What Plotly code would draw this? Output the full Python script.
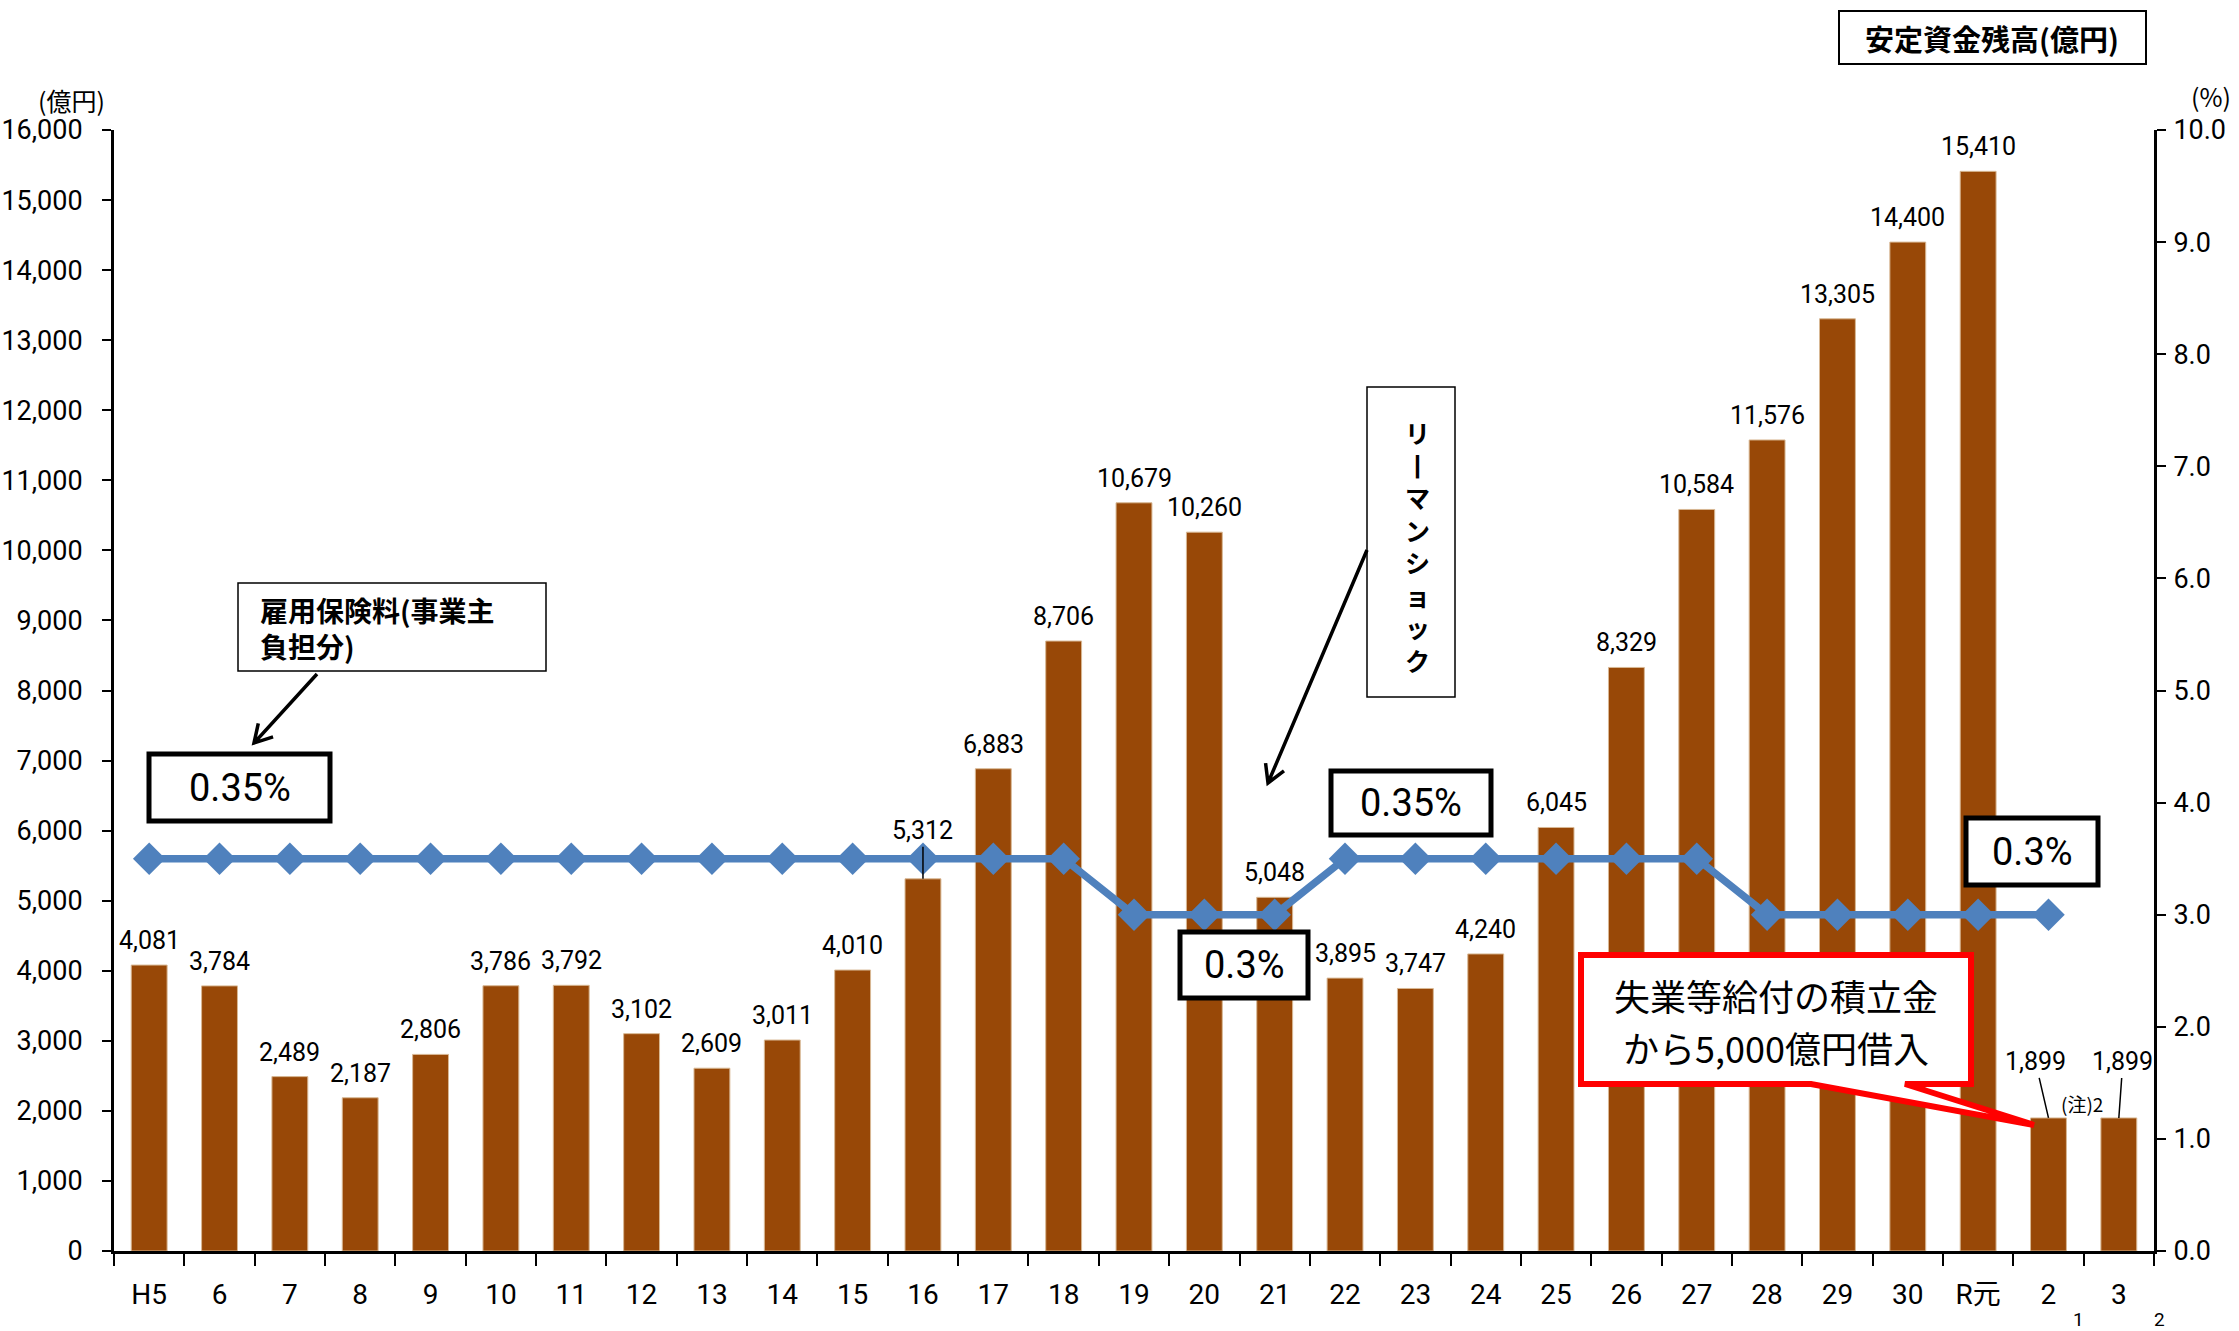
import math
import plotly.graph_objects as go

# ---------------- data ----------------
categories = ["H5", "6", "7", "8", "9", "10", "11", "12", "13", "14", "15", "16", "17",
              "18", "19", "20", "21", "22", "23", "24", "25", "26", "27", "28", "29",
              "30", "R元", "2", "3"]
balance = [4081, 3784, 2489, 2187, 2806, 3786, 3792, 3102, 2609, 3011, 4010, 5312, 6883,
           8706, 10679, 10260, 5048, 3895, 3747, 4240, 6045, 8329, 10584, 11576, 13305,
           14400, 15410, 1899, 1899]
rate_categories = categories[:28]
rate_values = [3.5, 3.5, 3.5, 3.5, 3.5, 3.5, 3.5, 3.5, 3.5, 3.5, 3.5, 3.5, 3.5, 3.5,
               3.0, 3.0, 3.0, 3.5, 3.5, 3.5, 3.5, 3.5, 3.5, 3.0, 3.0, 3.0, 3.0, 3.0]
left_ticks = [0, 1000, 2000, 3000, 4000, 5000, 6000, 7000, 8000, 9000, 10000, 11000,
              12000, 13000, 14000, 15000, 16000]
right_ticks = [0, 1, 2, 3, 4, 5, 6, 7, 8, 9, 10]

# ---------------- geometry ----------------
W, H = 2239, 1331
L, R, T, B = 114, 2154, 130, 1251


def px(x):
    return (x - L) / (R - L)


def py(y):
    return (B - y) / (B - T)


NUM_FONT = "Roboto, 'Noto Sans CJK JP', sans-serif"
JP_FONT = "'Noto Sans CJK JP', Roboto, sans-serif"
BAR_COLOR = "#984807"
LINE_COLOR = "#4F81BD"

fig = go.Figure()
fig.add_trace(go.Bar(
    x=categories, y=balance,
    marker=dict(color=BAR_COLOR, line=dict(color="#d8b894", width=1)),
    hoverinfo="x+y", showlegend=False,
))
fig.add_trace(go.Scatter(
    x=rate_categories, y=rate_values, yaxis="y2", mode="lines+markers",
    line=dict(color=LINE_COLOR, width=7.5),
    marker=dict(symbol="diamond", size=25, color=LINE_COLOR),
    showlegend=False,
))

annotations = []
special = {11: (0, -48), 27: (-13, -56), 28: (4, -56)}
for i, v in enumerate(balance):
    if i in special:
        ax, ay = special[i]
        annotations.append(dict(
            x=i, y=v, xref="x", yref="y", text=f"{v:,}", showarrow=True,
            arrowhead=0, arrowwidth=1.5, arrowcolor="black", ax=ax, ay=ay,
            font=dict(family=NUM_FONT, size=25, color="black"),
        ))
    else:
        annotations.append(dict(
            x=i, y=v, xref="x", yref="y", text=f"{v:,}", showarrow=False,
            yanchor="bottom", yshift=8,
            font=dict(family=NUM_FONT, size=25, color="black"),
        ))


def text_at(cx, cy, text, size, family=JP_FONT, xanchor="center", align="center"):
    annotations.append(dict(
        x=px(cx), y=py(cy), xref="paper", yref="paper", text=text, showarrow=False,
        xanchor=xanchor, yanchor="middle", align=align,
        font=dict(family=family, size=size, color="black"),
    ))


shapes = []


def arrow(tx, ty, hx, hy, head=20, spread=30):
    ang = math.atan2(ty - hy, tx - hx)
    a1 = ang + math.radians(spread)
    a2 = ang - math.radians(spread)
    p1 = (hx + head * math.cos(a1), hy + head * math.sin(a1))
    p2 = (hx + head * math.cos(a2), hy + head * math.sin(a2))
    path = (f"M {px(tx)},{py(ty)} L {px(hx)},{py(hy)} "
            f"M {px(p1[0])},{py(p1[1])} L {px(hx)},{py(hy)} L {px(p2[0])},{py(p2[1])}")
    shapes.append(dict(type="path", xref="paper", yref="paper", path=path,
                       line=dict(color="black", width=3.5), layer="above"))


def box(x0, y0, x1, y1, lw, color="black"):
    shapes.append(dict(
        type="rect", xref="paper", yref="paper", x0=px(x0), x1=px(x1),
        y0=py(y1), y1=py(y0), line=dict(color=color, width=lw), fillcolor="white",
        layer="above",
    ))


# title box
box(1839, 11, 2146, 64, 2)
text_at(1992, 38, "<b>安定資金残高(億円)</b>", 29)
# axis units
text_at(71, 100, "(億円)", 25)
text_at(2211, 96, "(%)", 25)

# 雇用保険料 box
box(238, 583, 546, 671, 1.5)
text_at(258, 628, "<b>雇用保険料(事業主<br>負担分)</b>", 28, xanchor="left", align="left")
arrow(317, 674, 254, 743)

# rate boxes
box(149, 754, 330, 821, 5)
text_at(240, 788, "0.35%", 38, family=NUM_FONT)
box(1331, 771, 1491, 835, 5)
text_at(1411, 803, "0.35%", 38, family=NUM_FONT)
box(1180, 932, 1308, 998, 5)
text_at(1244, 965, "0.3%", 38, family=NUM_FONT)
box(1966, 818, 2098, 885, 5)
text_at(2032, 852, "0.3%", 38, family=NUM_FONT)

# Lehman shock vertical box (vertical writing)
box(1367, 387, 1455, 697, 1.5)
text_at(1417, 546, "<b>リ<br>丨<br>マ<br>ン<br>シ<br>ョ<br>ッ<br>ク</b>", 25)
arrow(1367, 550, 1268, 783)

# red callout
bx0, by0, bx1, by1 = 1581, 955, 1971, 1084
base_l, base_r, tip_x, tip_y = 1811, 1905, 2034, 1125
path = (f"M {px(bx0)},{py(by0)} L {px(bx1)},{py(by0)} L {px(bx1)},{py(by1)} "
        f"L {px(base_r)},{py(by1)} L {px(tip_x)},{py(tip_y)} L {px(base_l)},{py(by1)} "
        f"L {px(bx0)},{py(by1)} Z")
shapes.append(dict(type="path", xref="paper", yref="paper", path=path,
                   line=dict(color="#ff0000", width=6), fillcolor="white", layer="above"))
text_at(1776, 995, "失業等給付の積立金", 36)
text_at(1776, 1047, "から5,000億円借入", 36)

# notes
text_at(2082, 1103, "(注)2", 19)
text_at(2078, 1319, "1", 19, family=NUM_FONT)
text_at(2159, 1319, "2", 19, family=NUM_FONT)

fig.update_layout(
    width=W, height=H,
    margin=dict(l=L, r=W - R, t=T, b=H - B, pad=0, autoexpand=False),
    paper_bgcolor="white", plot_bgcolor="white",
    font=dict(family=NUM_FONT, size=27, color="black"),
    bargap=0.49,
    showlegend=False,
    xaxis=dict(
        type="category", range=[-0.5, 28.5], tickson="boundaries",
        ticks="outside", ticklen=12, tickwidth=2, tickcolor="black",
        showline=True, linecolor="black", linewidth=3, showgrid=False,
        tickfont=dict(family=NUM_FONT, size=28), ticklabelstandoff=16,
        automargin=False, fixedrange=True,
    ),
    yaxis=dict(
        range=[0, 16000], tickvals=left_ticks, tickformat=",",
        ticks="outside", ticklen=9, tickwidth=2, tickcolor="black",
        showline=True, linecolor="black", linewidth=3, showgrid=False,
        zeroline=False, tickfont=dict(family=NUM_FONT, size=27),
        ticklabelstandoff=14, automargin=False,
    ),
    yaxis2=dict(
        range=[0, 10], tickvals=right_ticks, tickformat=".1f",
        overlaying="y", side="right",
        ticks="outside", ticklen=9, tickwidth=2, tickcolor="black",
        showline=True, linecolor="black", linewidth=3, showgrid=False,
        zeroline=False, tickfont=dict(family=NUM_FONT, size=27),
        ticklabelstandoff=2, automargin=False,
    ),
    annotations=annotations,
    shapes=shapes,
)

fig.write_html(
    "out.html",
    config={"displayModeBar": False},
    post_script="document.body.style.margin='0';document.body.style.overflow='hidden';",
)
